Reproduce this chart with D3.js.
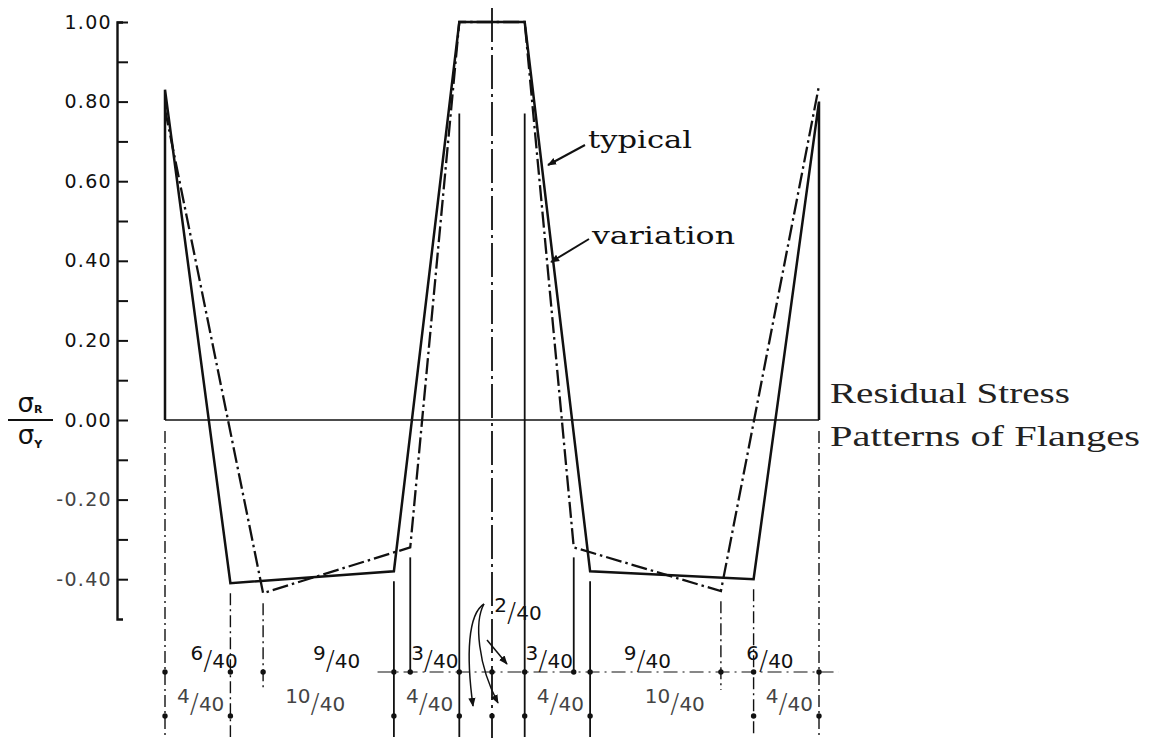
<!DOCTYPE html>
<html>
<head>
<meta charset="utf-8">
<script src="https://cdn.jsdelivr.net/npm/d3@7"></script>
<style>
  body { margin: 0; background: #fff; }
  svg { display: block; }
</style>
</head>
<body>
<svg id="chart" width="1151" height="740"></svg>
<script>
// Flange position in fortieths of the width (0..40); stress ratio σR/σY.
const typicalPos   = [0, 0, 4, 14, 18, 22, 26, 36, 40, 40];
const typicalVal   = [0, 0.83, -0.41, -0.38, 1.00, 1.00, -0.38, -0.40, 0.80, 0];
const variationPos = [0, 6, 15, 18, 22, 25, 34, 40];
const variationVal = [0.78, -0.435, -0.32, 1.00, 1.00, -0.32, -0.43, 0.84];

const yMajorTicks  = [1.0, 0.8, 0.6, 0.4, 0.2, 0.0, -0.2, -0.4];
const yTickLabels  = ["1.00", "0.80", "0.60", "0.40", "0.20", "0.00", "-0.20", "-0.40"];
const yMinorTicks  = [0.9, 0.7, 0.5, 0.3, 0.1, -0.1, -0.3];

// Dimension chains (segment widths in fortieths) and their labels
const upperDims    = [6, 9, 3, 2, 2, 3, 9, 6];
const upperLabels  = ["6/40", "9/40", "3/40", "", "", "3/40", "9/40", "6/40"];
const lowerDims    = [4, 10, 4, 2, 2, 4, 10, 4];
const lowerLabels  = ["4/40", "10/40", "4/40", "", "", "4/40", "10/40", "4/40"];
const centerLabel  = "2/40";
const innerGuideVal = 0.77;   // top of the guide lines at the 1.00 plateau edges

const ink = "#111";
const svg = d3.select("#chart");

const x = d3.scaleLinear().domain([0, 40]).range([165, 819]);
const y = d3.scaleLinear().domain([-0.5, 1.0]).range([619, 22]);

const rowTop = 672, rowBottom = 716;

// arrowhead marker
svg.append("defs").append("marker")
  .attr("id", "arrow").attr("viewBox", "0 0 10 10")
  .attr("refX", 9).attr("refY", 5)
  .attr("markerWidth", 9).attr("markerHeight", 9)
  .attr("markerUnits", "userSpaceOnUse")
  .attr("orient", "auto")
  .append("path").attr("d", "M0,1 L10,5 L0,9 Z").attr("fill", ink);

// ---- y axis ----
const yAxis = d3.axisLeft(y)
  .tickValues(yMajorTicks)
  .tickFormat((d, i) => yTickLabels[i])
  .tickSizeInner(-11).tickSizeOuter(-6).tickPadding(5);
const gy = svg.append("g").attr("transform", "translate(117,0)").call(yAxis);
gy.select(".domain").attr("stroke", ink).attr("stroke-width", 2.4);
gy.selectAll(".tick line").attr("stroke", ink).attr("stroke-width", 2);
gy.selectAll(".tick text")
  .attr("font-family", "DejaVu Sans").attr("font-size", 19)
  .attr("letter-spacing", 1.3)
  .attr("fill", d => d < 0 ? "#444" : ink);

const gMinor = svg.append("g").attr("transform", "translate(117,0)")
  .call(d3.axisLeft(y).tickValues(yMinorTicks).tickFormat("").tickSizeInner(-11).tickSizeOuter(0));
gMinor.select(".domain").remove();
gMinor.selectAll(".tick line").attr("stroke", ink).attr("stroke-width", 2);

// y axis title: σR / σY
const yt = svg.append("g").attr("font-family", "DejaVu Sans").attr("fill", ink);
yt.append("text").attr("x", 30).attr("y", 412).attr("text-anchor", "middle")
  .attr("font-size", 26)
  .call(t => { t.append("tspan").text("σ"); t.append("tspan").attr("font-size", 11).attr("font-weight", "bold").attr("dy", 1).text("R"); });
yt.append("line").attr("x1", 8).attr("x2", 53).attr("y1", 420).attr("y2", 420)
  .attr("stroke", ink).attr("stroke-width", 1.8);
yt.append("text").attr("x", 30).attr("y", 444).attr("text-anchor", "middle")
  .attr("font-size", 26)
  .call(t => { t.append("tspan").text("σ"); t.append("tspan").attr("font-size", 11).attr("font-weight", "bold").attr("dy", 4).text("Y"); });

// ---- zero line ----
svg.append("line")
  .attr("x1", x(0)).attr("x2", x(40)).attr("y1", y(0)).attr("y2", y(0))
  .attr("stroke", ink).attr("stroke-width", 1.6);

// ---- extension / guide lines ----
const cum = arr => arr.reduce((acc, w) => { acc.push(acc[acc.length - 1] + w); return acc; }, [0]);
const upperB = cum(upperDims);
const lowerB = cum(lowerDims);
const allB = Array.from(new Set([...upperB, ...lowerB])).sort((a, b) => a - b);

function lowestAt(p) {
  const vals = [];
  typicalPos.forEach((q, i) => { if (q === p) vals.push(typicalVal[i]); });
  variationPos.forEach((q, i) => { if (q === p) vals.push(variationVal[i]); });
  return vals.length ? d3.min(vals) : null;
}

const solidGuides = new Set([14, 15, 18, 22, 25, 26]);
allB.forEach(p => {
  if (p === 20) return;
  let startY;
  if (p === 0 || p === 40) startY = y(0) + 11;
  else if (p === 18 || p === 22) startY = y(innerGuideVal);
  else startY = y(lowestAt(p)) + 10;
  let endY;
  if (lowerB.includes(p)) endY = 737;
  else if (p === 15 || p === 25) endY = rowTop;
  else endY = rowTop + 18;
  svg.append("line")
    .attr("x1", x(p)).attr("x2", x(p)).attr("y1", startY).attr("y2", endY)
    .attr("stroke", ink)
    .attr("stroke-width", solidGuides.has(p) ? 1.8 : 1.4)
    .attr("stroke-dasharray", solidGuides.has(p) ? null : "12,4,2,4");
});

// center line
svg.append("line")
  .attr("x1", x(20)).attr("x2", x(20)).attr("y1", 8).attr("y2", 738)
  .attr("stroke", ink).attr("stroke-width", 1.8)
  .attr("stroke-dasharray", "34,5,3,5");

// ---- stress patterns ----
const line = d3.line().x(d => x(d[0])).y(d => y(d[1]));
svg.append("path")
  .datum(variationPos.map((p, i) => [p, variationVal[i]]))
  .attr("d", line).attr("fill", "none").attr("stroke", ink)
  .attr("stroke-width", 2.3).attr("stroke-dasharray", "16,4,2.5,4");
svg.append("path")
  .datum(typicalPos.map((p, i) => [p, typicalVal[i]]))
  .attr("d", line).attr("fill", "none").attr("stroke", ink)
  .attr("stroke-width", 2.5).attr("stroke-linejoin", "miter");

// ---- dimension chains ----
svg.append("line")
  .attr("x1", x(13)).attr("x2", x(41.2)).attr("y1", rowTop).attr("y2", rowTop)
  .attr("stroke", ink).attr("stroke-width", 1.2).attr("stroke-dasharray", "14,5,2,5");

svg.selectAll(".dotTop").data(allB).join("circle")
  .attr("cx", d => x(d)).attr("cy", rowTop).attr("r", 2.7).attr("fill", ink);
svg.selectAll(".dotBottom").data(lowerB).join("circle")
  .attr("cx", d => x(d)).attr("cy", rowBottom).attr("r", 2.7).attr("fill", ink);

// stacked-slash fraction: raised numerator, tall slash, lowered denominator
function fraction(cx, baseline, label, size, color) {
  const [num, den] = label.split("/");
  const t = svg.append("text")
    .attr("x", cx).attr("y", baseline).attr("text-anchor", "middle")
    .attr("font-family", "DejaVu Sans").attr("font-size", size).attr("fill", color);
  t.append("tspan").attr("dy", -size * 0.42).text(num);
  t.append("tspan").attr("dy", size * 0.5)
    .attr("font-size", size * 1.35).attr("font-weight", 300).text("/");
  t.append("tspan").attr("dy", -size * 0.08).text(den);
}

upperDims.forEach((w, i) => {
  if (!upperLabels[i]) return;
  const mid = (upperB[i] + upperB[i + 1]) / 2;
  fraction(x(mid), rowTop - 4, upperLabels[i], 20, ink);
});
lowerDims.forEach((w, i) => {
  if (!lowerLabels[i]) return;
  const mid = (lowerB[i] + lowerB[i + 1]) / 2;
  fraction(x(mid) + 3, rowBottom - 5, lowerLabels[i], 20, "#444");
});
fraction(x(20) + 26, 620, centerLabel, 20, ink);

// leaders for the two central 2/40 spaces
const leader = svg.append("g").attr("fill", "none").attr("stroke", ink).attr("stroke-width", 1.5);
leader.append("path").attr("d", "M484,604 C468,614 466,655 473,706").attr("marker-end", "url(#arrow)");
leader.append("path").attr("d", "M484,604 C474,622 478,665 498,703").attr("marker-end", "url(#arrow)");
leader.append("path").attr("d", "M487,640 L507,664").attr("marker-end", "url(#arrow)");

// ---- annotations ----
const notes = svg.append("g").attr("font-family", "DejaVu Serif").attr("fill", ink);
notes.append("text").attr("x", 588).attr("y", 148).attr("font-size", 25)
  .attr("textLength", 104).attr("lengthAdjust", "spacingAndGlyphs").text("typical");
notes.append("text").attr("x", 592).attr("y", 244).attr("font-size", 25)
  .attr("textLength", 143).attr("lengthAdjust", "spacingAndGlyphs").text("variation");

const arrows = svg.append("g").attr("stroke", ink).attr("stroke-width", 2);
arrows.append("line").attr("x1", 585).attr("y1", 145).attr("x2", 548).attr("y2", 165).attr("marker-end", "url(#arrow)");
arrows.append("line").attr("x1", 589).attr("y1", 239).attr("x2", 551).attr("y2", 262).attr("marker-end", "url(#arrow)");

const title = svg.append("g").attr("font-family", "Liberation Serif").attr("fill", "#222");
title.append("text").attr("x", 830).attr("y", 403).attr("font-size", 29)
  .attr("textLength", 240).attr("lengthAdjust", "spacingAndGlyphs").text("Residual Stress");
title.append("text").attr("x", 830).attr("y", 446).attr("font-size", 29)
  .attr("textLength", 310).attr("lengthAdjust", "spacingAndGlyphs").text("Patterns of Flanges");
</script>
</body>
</html>
